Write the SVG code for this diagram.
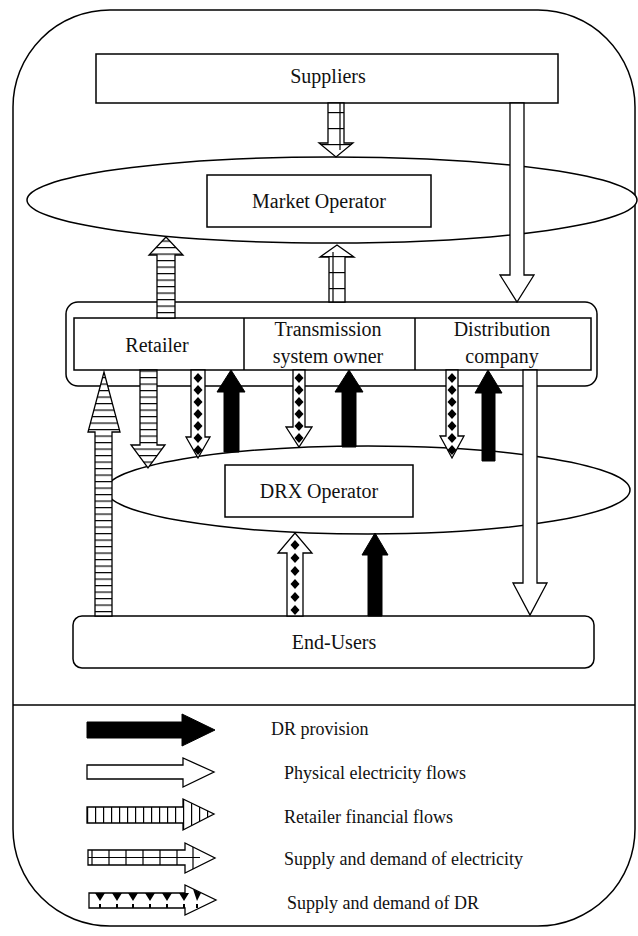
<svg xmlns="http://www.w3.org/2000/svg" width="638" height="936" viewBox="0 0 638 936">
<style>
.ln{fill:none;stroke:#000;stroke-width:1.5}
.bx{fill:#fff;stroke:#000;stroke-width:1.5}
.wa{fill:#fff;stroke:#000;stroke-width:1.3}
.ba{fill:#000;stroke:#000;stroke-width:1}
.hs{fill:url(#hs);stroke:#000;stroke-width:1.3}
.vs{fill:url(#vs);stroke:#000;stroke-width:1.3}
.hg{fill:url(#hg);stroke:#000;stroke-width:1.3}
.t{font-family:"Liberation Serif","Times New Roman",serif;font-size:20px;fill:#111;text-anchor:middle}
.lt{font-family:"Liberation Serif","Times New Roman",serif;font-size:18px;fill:#111}
.il{stroke:#000;stroke-width:1.2}
</style>
<defs>
<pattern id="hs" width="20" height="6.5" patternUnits="userSpaceOnUse"><rect width="20" height="6.5" fill="#fff"/><line x1="0" y1="0.6" x2="20" y2="0.6" stroke="#000" stroke-width="1.2"/></pattern>
<pattern id="vs" width="8" height="20" patternUnits="userSpaceOnUse" x="87"><rect width="8" height="20" fill="#fff"/><line x1="0.6" y1="0" x2="0.6" y2="20" stroke="#000" stroke-width="1.2"/></pattern>
<pattern id="hg" width="20" height="16" patternUnits="userSpaceOnUse"><rect width="20" height="16" fill="#fff"/><line x1="0" y1="0.6" x2="20" y2="0.6" stroke="#000" stroke-width="1.2"/></pattern>
<path id="dm" d="M0,-5 L4.5,0 L0,5 L-4.5,0Z" fill="#000"/>
</defs>

<g id="frame">
<path class="ln" d="M110,10 H538 A97,97 0 0 1 635,107 V829 A97,97 0 0 1 538,926 H110 A97,97 0 0 1 13,829 V107 A97,97 0 0 1 110,10 Z"/>
<line class="ln" x1="13" y1="705" x2="635" y2="705"/>
</g>

<g id="suppliers">
<rect class="bx" x="96" y="54" width="462" height="49"/>
<text class="t" x="328" y="83">Suppliers</text>
</g>

<g id="market-operator">
<ellipse class="bx" cx="332" cy="200" rx="305" ry="43"/>
<rect class="bx" x="207" y="175" width="224" height="52"/>
<text class="t" x="319" y="208">Market Operator</text>
</g>

<g id="middle-entities">
<rect class="bx" x="66" y="302" width="531" height="84" rx="12"/>
<rect class="bx" x="74" y="318" width="517" height="52"/>
<line class="ln" x1="244" y1="318" x2="244" y2="370"/>
<line class="ln" x1="415" y1="318" x2="415" y2="370"/>
<text class="t" x="157" y="352">Retailer</text>
<text class="t" x="328" y="336">Transmission</text>
<text class="t" x="328" y="363">system owner</text>
<text class="t" x="502" y="336">Distribution</text>
<text class="t" x="502" y="363">company</text>
</g>

<g id="drx-operator">
<ellipse class="bx" cx="368" cy="490" rx="262" ry="44"/>
<rect class="bx" x="225" y="465" width="188" height="52"/>
<text class="t" x="319" y="498">DRX Operator</text>
</g>

<g id="end-users">
<rect class="bx" x="73" y="616" width="521" height="52" rx="9"/>
<text class="t" x="334" y="649">End-Users</text>
</g>

<g id="connectors">
<polygon class="hg" points="328,103 344,103 344,143 353,143 336,157 319,143 328,143"/>
<line class="il" x1="340" y1="103" x2="340" y2="150"/>
<polygon class="wa" points="510,103 524,103 524,275 534,275 517,302 500,275 510,275"/>
<polygon class="hs" points="157,318 175,318 175,255 183,255 166,237 149,255 157,255"/>
<polygon class="hg" points="329,302 345,302 345,257 354,257 337,245 320,257 329,257"/>
<line class="il" x1="333" y1="302" x2="333" y2="252"/>
<polygon class="hs" points="95,616 112,616 112,432 120,432 104,372 88,432 95,432"/>
<polygon class="hs" points="140,370 157,370 157,445 165,445 148,468 131,445 140,445"/>
<polygon class="wa" points="191,370 205,370 205,437 210,437 198,458 186,437 191,437"/>
<use href="#dm" x="198" y="378"/><use href="#dm" x="198" y="390"/><use href="#dm" x="198" y="402"/><use href="#dm" x="198" y="414"/><use href="#dm" x="198" y="426"/><use href="#dm" x="198" y="438"/><use href="#dm" x="198" y="450"/>
<polygon class="ba" points="224,452 239,452 239,392 245,392 231,370 217,392 224,392"/>
<polygon class="wa" points="293,370 305,370 305,427 312,427 299,447 286,427 293,427"/>
<use href="#dm" x="299" y="378"/><use href="#dm" x="299" y="390"/><use href="#dm" x="299" y="402"/><use href="#dm" x="299" y="414"/><use href="#dm" x="299" y="426"/><use href="#dm" x="299" y="438"/>
<polygon class="ba" points="342,447 356,447 356,392 363,392 349,370 335,392 342,392"/>
<polygon class="wa" points="446,370 458,370 458,436 464,436 452,458 440,436 446,436"/>
<use href="#dm" x="452" y="378"/><use href="#dm" x="452" y="390"/><use href="#dm" x="452" y="402"/><use href="#dm" x="452" y="414"/><use href="#dm" x="452" y="426"/><use href="#dm" x="452" y="438"/><use href="#dm" x="452" y="450"/>
<polygon class="ba" points="482,461 495,461 495,393 502,393 488,370 475,393 482,393"/>
<polygon class="wa" points="523,370 537,370 537,583 547,583 530,615 513,583 523,583"/>
<polygon class="wa" points="287,616 303,616 303,553 312,553 295,533 278,553 287,553"/>
<use href="#dm" x="295" y="545"/><use href="#dm" x="295" y="558"/><use href="#dm" x="295" y="571"/><use href="#dm" x="295" y="584"/><use href="#dm" x="295" y="597"/><use href="#dm" x="295" y="610"/>
<polygon class="ba" points="368,616 382,616 382,555 388,555 375,533 362,555 368,555"/>
</g>

<g id="legend">
<polygon class="ba" points="87,722 182,722 182,714 215,730 182,746 182,738 87,738"/>
<text class="lt" x="271" y="735">DR provision</text>
<polygon class="wa" points="87,765 183,765 183,758 214,772 183,787 183,779 87,779"/>
<text class="lt" x="284" y="779">Physical electricity flows</text>
<polygon class="vs" points="87,807 183,807 183,799 214,814 183,830 183,823 87,823"/>
<text class="lt" x="284" y="823">Retailer financial flows</text>
<polygon class="wa" points="88,850 185,850 185,843 215,858 185,873 185,865 88,865"/>
<line class="il" x1="88" y1="857.5" x2="200" y2="857.5"/>
<line class="il" x1="92" y1="850" x2="92" y2="865"/><line class="il" x1="109" y1="850" x2="109" y2="865"/><line class="il" x1="126" y1="850" x2="126" y2="865"/><line class="il" x1="143" y1="850" x2="143" y2="865"/><line class="il" x1="160" y1="850" x2="160" y2="865"/><line class="il" x1="177" y1="850" x2="177" y2="865"/><line class="il" x1="193" y1="847" x2="193" y2="869"/>
<text class="lt" x="284" y="865">Supply and demand of electricity</text>
<polygon class="wa" points="89,893 185,893 185,885 216,900 185,915 185,908 89,908"/>
<g fill="#000">
<path d="M95,893 H105 L100,901Z M112,893 H122 L117,901Z M128,893 H138 L133,901Z M145,893 H155 L150,901Z M162,893 H172 L167,901Z M179,893 H189 L184,901Z M193,889 L201,893 L197,901Z"/>
<rect x="99" y="904" width="2" height="4"/><rect x="116" y="904" width="2" height="4"/><rect x="132" y="904" width="2" height="4"/><rect x="149" y="904" width="2" height="4"/><rect x="166" y="904" width="2" height="4"/><rect x="183" y="904" width="2" height="4"/><rect x="196" y="904" width="2" height="4"/>
</g>
<text class="lt" x="287" y="909">Supply and demand of DR</text>
</g>
</svg>
